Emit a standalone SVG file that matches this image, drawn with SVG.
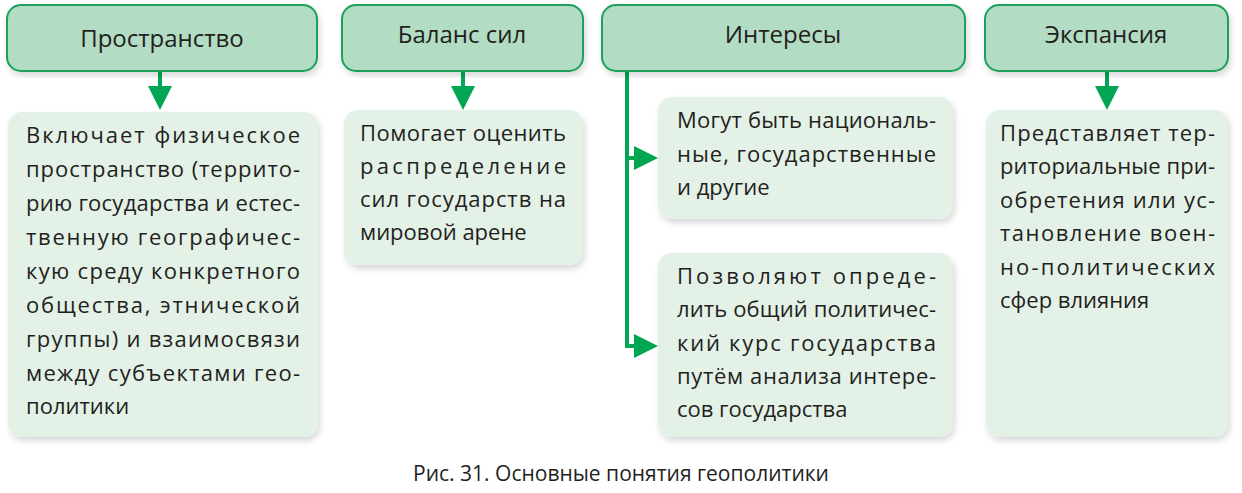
<svg xmlns="http://www.w3.org/2000/svg" width="1242" height="493" viewBox="0 0 1242 493">
<style>
.h{fill:#b2dcc3;stroke:#1aa05a;stroke-width:2}
.b{fill:#e3f1e7}
.ht{font-family:"Open Sans","Noto Sans",sans-serif;font-size:24px;fill:#231f20;text-anchor:middle}
.t{font-family:"Open Sans","Noto Sans",sans-serif;font-size:22px;fill:#231f20}
.c{stroke:#00a651;stroke-width:4;fill:none}
</style>
<defs>
<marker id="a" markerWidth="6" markerHeight="6" refX="3" refY="3" orient="auto" markerUnits="strokeWidth"><path d="M0,0 L6,3 L0,6 z" fill="#00a651"/></marker>
<filter id="s" x="-5%" y="-5%" width="115%" height="115%"><feDropShadow dx="2" dy="4" stdDeviation="3" flood-color="#000" flood-opacity="0.15"/></filter>
</defs>
<g id="connectors">
<line class="c" x1="160" y1="71" x2="160" y2="98" marker-end="url(#a)"/>
<line class="c" x1="463" y1="71" x2="463" y2="98" marker-end="url(#a)"/>
<line class="c" x1="1107" y1="71" x2="1107" y2="98" marker-end="url(#a)"/>
<polyline class="c" points="627,71 627,346 646,346" marker-end="url(#a)"/>
<line class="c" x1="627" y1="158" x2="646" y2="158" marker-end="url(#a)"/>
</g>
<g id="h1"><rect class="h" x="7" y="5" width="310" height="66" rx="14" filter="url(#s)"/><text class="ht" x="162" y="47">Пространство</text></g>
<g id="h2"><rect class="h" x="342" y="5" width="241" height="66" rx="14" filter="url(#s)"/><text class="ht" x="462" y="43">Баланс сил</text></g>
<g id="h3"><rect class="h" x="602" y="5" width="363" height="66" rx="14" filter="url(#s)"/><text class="ht" x="783" y="43">Интересы</text></g>
<g id="h4"><rect class="h" x="985" y="5" width="243" height="66" rx="14" filter="url(#s)"/><text class="ht" x="1106" y="43">Экспансия</text></g>
<g id="b1"><rect class="b" x="8" y="112" width="310" height="325" rx="14" filter="url(#s)"/>
<text class="t"><tspan x="26" y="143" textLength="274" lengthAdjust="spacing">Включает физическое</tspan><tspan x="26" y="177" textLength="274" lengthAdjust="spacing">пространство (террито-</tspan><tspan x="26" y="211" textLength="274" lengthAdjust="spacing">рию государства и естес-</tspan><tspan x="26" y="245" textLength="274" lengthAdjust="spacing">твенную географичес-</tspan><tspan x="26" y="279" textLength="274" lengthAdjust="spacing">кую среду конкретного</tspan><tspan x="26" y="313" textLength="274" lengthAdjust="spacing">общества, этнической</tspan><tspan x="26" y="347" textLength="274" lengthAdjust="spacing">группы) и взаимосвязи</tspan><tspan x="26" y="381" textLength="274" lengthAdjust="spacing">между субъектами гео-</tspan><tspan x="26" y="414">политики</tspan></text></g>
<g id="b2"><rect class="b" x="344" y="110" width="239" height="155" rx="14" filter="url(#s)"/>
<text class="t"><tspan x="360" y="141" textLength="206" lengthAdjust="spacing">Помогает оценить</tspan><tspan x="360" y="174" textLength="206" lengthAdjust="spacing">распределение</tspan><tspan x="360" y="207" textLength="206" lengthAdjust="spacing">сил государств на</tspan><tspan x="360" y="240">мировой арене</tspan></text></g>
<g id="b3"><rect class="b" x="658" y="97" width="295" height="122" rx="14" filter="url(#s)"/>
<text class="t"><tspan x="677" y="128" textLength="259" lengthAdjust="spacing">Могут быть националь-</tspan><tspan x="677" y="162" textLength="259" lengthAdjust="spacing">ные, государственные</tspan><tspan x="677" y="195">и другие</tspan></text></g>
<g id="b4"><rect class="b" x="658" y="253" width="295" height="184" rx="14" filter="url(#s)"/>
<text class="t"><tspan x="677" y="284" textLength="259" lengthAdjust="spacing">Позволяют опреде-</tspan><tspan x="677" y="317" textLength="259" lengthAdjust="spacing">лить общий политичес-</tspan><tspan x="677" y="351" textLength="259" lengthAdjust="spacing">кий курс государства</tspan><tspan x="677" y="384" textLength="259" lengthAdjust="spacing">путём анализа интере-</tspan><tspan x="677" y="417">сов государства</tspan></text></g>
<g id="b5"><rect class="b" x="986" y="110" width="242" height="327" rx="14" filter="url(#s)"/>
<text class="t"><tspan x="1000" y="141" textLength="215" lengthAdjust="spacing">Представляет тер-</tspan><tspan x="1000" y="174" textLength="215" lengthAdjust="spacing">риториальные при-</tspan><tspan x="1000" y="208" textLength="215" lengthAdjust="spacing">обретения или ус-</tspan><tspan x="1000" y="241" textLength="215" lengthAdjust="spacing">тановление воен-</tspan><tspan x="1000" y="275" textLength="215" lengthAdjust="spacing">но-политических</tspan><tspan x="1000" y="308">сфер влияния</tspan></text></g>
<text x="621" y="481" style="font-family:'Open Sans','Noto Sans',sans-serif;font-size:21px;fill:#231f20;text-anchor:middle">Рис. 31. Основные понятия геополитики</text>
</svg>
